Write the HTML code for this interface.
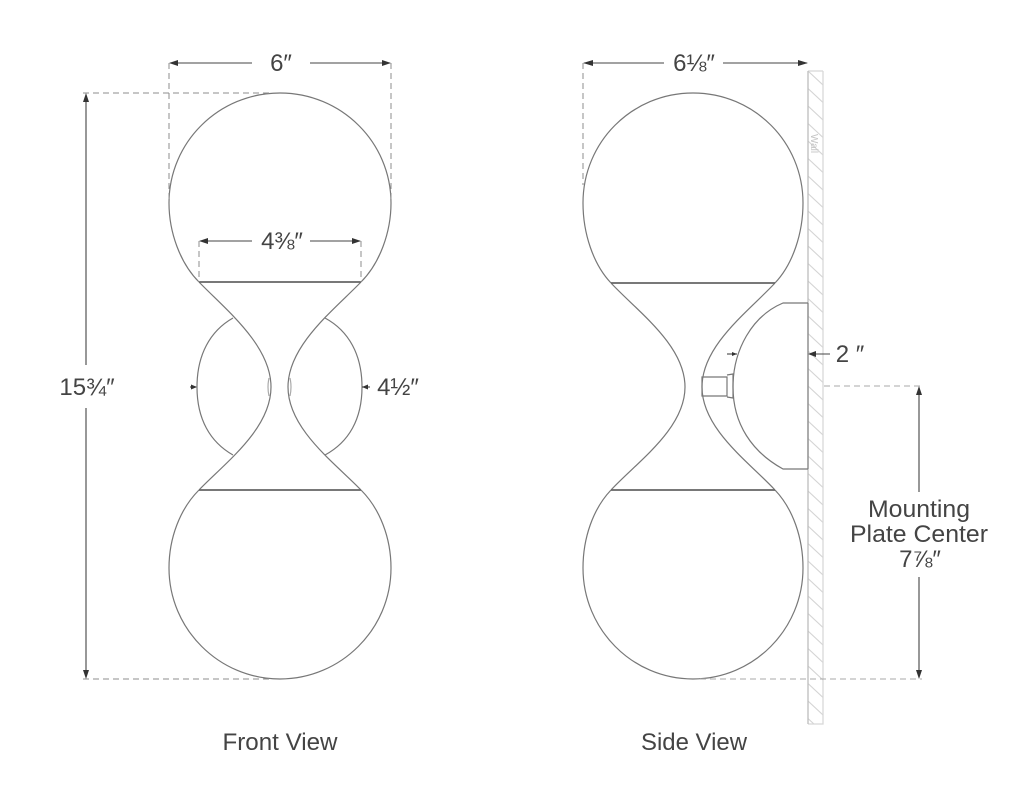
<!DOCTYPE html>
<html>
<head>
<meta charset="utf-8">
<style>
html,body{margin:0;padding:0;background:#fff;width:1024px;height:805px;overflow:hidden}
svg{display:block;filter:blur(0.35px)}
text{font-family:"Liberation Sans",sans-serif;fill:#444}
</style>
</head>
<body>
<svg width="1024" height="805" viewBox="0 0 1024 805" xmlns="http://www.w3.org/2000/svg">
<defs>
<pattern id="hatch" patternUnits="userSpaceOnUse" x="808" y="71" width="15" height="17.5">
<path d="M0 0L15 14" stroke="#d4d4d4" stroke-width="1.1" fill="none"/>
</pattern>
</defs>
<rect width="1024" height="805" fill="#fff"/>

<!-- wall -->
<rect x="808" y="71" width="15" height="653" fill="url(#hatch)"/>
<path d="M823 71H808M823 71V724H808" fill="none" stroke="#d8d8d8" stroke-width="1.3"/>
<path d="M808 71V724" fill="none" stroke="#bdbdbd" stroke-width="1.3"/>
<path d="M808 303V469" fill="none" stroke="#8a8a8a" stroke-width="1.3"/>

<!-- Front view -->
<g fill="none" stroke="#777" stroke-width="1.2">
<path d="M199 282C180 263 169 232 169 203C169 142 219 93 280 93C341 93 391 142 391 203C391 232 380 263 361 282"/>
<path d="M199 490C180 509 169 538 169 568C169 629 219 679 280 679C341 679 391 629 391 568C391 538 380 509 361 490"/>
<path d="M199 282C225 309 271 345 271 387C271 429 225 463 199 490"/>
<path d="M361 282C335 309 288 345 288 387C288 429 335 463 361 490"/>
<path d="M233 318C210 331 197 355 197 387C197 419 210 442 233 455"/>
<path d="M325 318C349 331 362 355 362 387C362 419 349 442 325 455"/>
<path d="M269 378Q267 387 269 396M290 378Q292 387 290 396" stroke="#aaa"/>
</g>
<path d="M199 282H361M199 490H361" stroke="#666" stroke-width="1.8" fill="none"/>

<!-- Side view -->
<g fill="none" stroke="#777" stroke-width="1.2">
<path d="M611 283C593 264 583 233 583 203C583 142 632 93 693 93C754 93 803 142 803 203C803 233 793 264 775 283"/>
<path d="M611 490C593 509 583 538 583 568C583 629 632 679 693 679C754 679 803 629 803 568C803 538 793 509 775 490"/>
<path d="M611 283C637 311 685 345 685 387C685 429 637 462 611 490"/>
<path d="M775 283C749 311 702 345 702 387C702 429 749 462 775 490"/>
<path d="M808 303H783C752 316 733 350 733 387C733 424 752 452 783 469H808"/>
<path d="M702 377H727V396H702Z"/>
<path d="M727 375L733 374V398L727 397"/>
</g>
<path d="M611 283H775M611 490H775" stroke="#666" stroke-width="1.8" fill="none"/>

<!-- dashed extension lines -->
<g fill="none" stroke="#8c8c8c" stroke-width="1" stroke-dasharray="6 4">
<path d="M169 63V203"/>
<path d="M391 63V203"/>
<path d="M583 63V185"/>
<path d="M83 93H270"/>
<path d="M83 679H270"/>
<path d="M199 241V282"/>
<path d="M361 241V282"/>
</g>
<g fill="none" stroke="#aaa" stroke-width="1" stroke-dasharray="6 4">
<path d="M824 386H922"/>
<path d="M700 679H922"/>
</g>

<!-- dimension lines -->
<g fill="none" stroke="#444" stroke-width="1.1">
<path d="M170 63H252M310 63H390"/>
<path d="M200 241H252M310 241H360"/>
<path d="M86 98V365M86 408V676"/>
<path d="M584 63H664M723 63H807"/>
<path d="M919 388V492M919 577V676"/>
<path d="M810 354H830"/>
<path d="M190 387H196"/>
<path d="M362 387H370"/>
<path d="M727 354H737"/>
</g>
<g fill="#333" stroke="none">
<path d="M169 63l9-3v6zM391 63l-9-3v6z"/>
<path d="M199 241l9-3v6zM361 241l-9-3v6z"/>
<path d="M86 93l-3 9h6zM86 679l-3-9h6z"/>
<path d="M583 63l10-3v6zM808 63l-10-3v6z"/>
<path d="M919 386l-3 9h6zM919 679l-3-9h6z"/>
<path d="M808 354l8-3v6z"/>
<path d="M197 387l-6-2.500v5z"/>
<path d="M362 387l6-2.500v5z"/>
<path d="M737 354l-5-2v4z"/>
</g>

<!-- labels -->
<g font-size="24">
<text x="281" y="71" text-anchor="middle">6″</text>
<text x="282" y="249" text-anchor="middle">4⅜″</text>
<text x="87" y="395" text-anchor="middle">15¾″</text>
<text x="398" y="395" text-anchor="middle">4½″</text>
<text x="694" y="71" text-anchor="middle">6⅛″</text>
<text x="850" y="362" text-anchor="middle">2 ″</text>
<text x="919" y="517" text-anchor="middle" textLength="102" lengthAdjust="spacingAndGlyphs">Mounting</text>
<text x="919" y="542" text-anchor="middle" textLength="138" lengthAdjust="spacingAndGlyphs">Plate Center</text>
<text x="920" y="567" text-anchor="middle">7⅞″</text>
<text x="280" y="750" text-anchor="middle" textLength="115" lengthAdjust="spacingAndGlyphs">Front View</text>
<text x="694" y="750" text-anchor="middle" textLength="106" lengthAdjust="spacingAndGlyphs">Side View</text>
</g>
<text transform="translate(811,134) rotate(90)" font-size="10" style="fill:#c4c4c4">Wall</text>
</svg>
</body>
</html>
